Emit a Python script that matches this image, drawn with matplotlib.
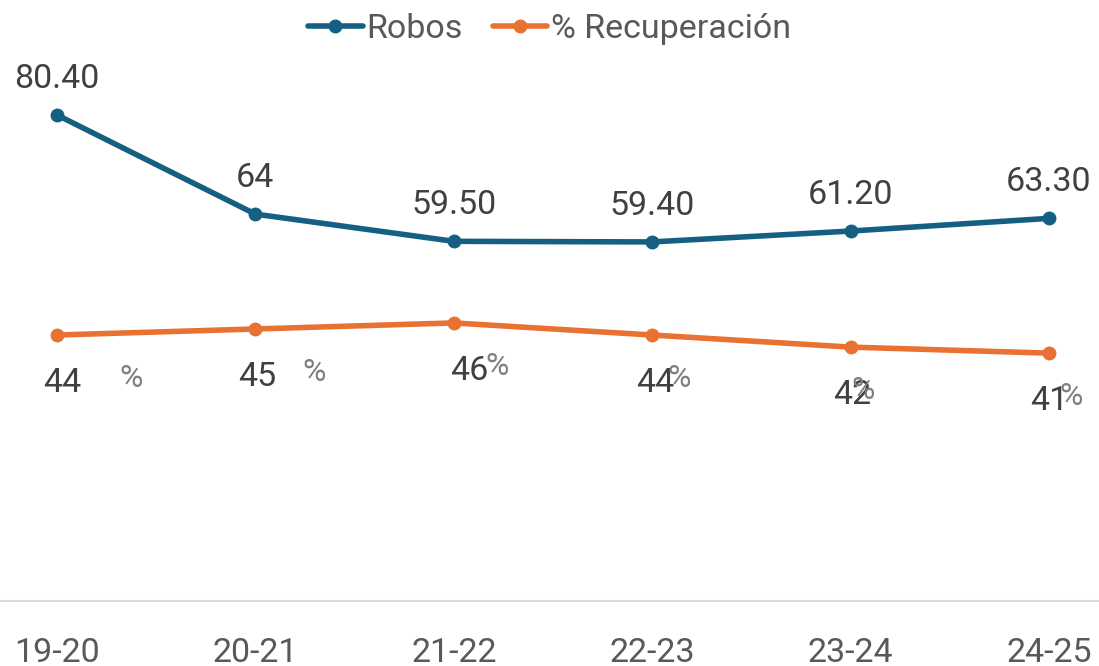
import matplotlib
matplotlib.use("Agg")
import matplotlib.pyplot as plt

plt.rcParams["font.family"] = ["Roboto", "DejaVu Sans"]

# Data
temporadas = ["19-20", "20-21", "21-22", "22-23", "23-24", "24-25"]
robos = [80.40, 64, 59.50, 59.40, 61.20, 63.30]
recuperacion = [44, 45, 46, 44, 42, 41]
robos_labels = ["80.40", "64", "59.50", "59.40", "61.20", "63.30"]

# Colours (Office theme)
BLUE = "#156082"
ORANGE = "#E97132"

# label nudges in pixels (number, "%" sign) for the orange series
num_dx = [5, 2, 16, 3, 2, 0]
pct_dx = [74, 59, 43, 27, 12, 22]

W, H = 1099, 666
fig = plt.figure(figsize=(W / 100, H / 100), dpi=100)
ax = fig.add_axes([0, 65 / H, 1, 601 / H])

x = list(range(len(temporadas)))
ax.plot(x, robos, color=BLUE, lw=4, marker="o", ms=9, label="Robos",
        solid_capstyle="round")
ax.plot(x, recuperacion, color=ORANGE, lw=4, marker="o", ms=9,
        label="% Recuperación", solid_capstyle="round")

step = 198.4
ax.set_xlim(-57 / step, (W - 57) / step)
ax.set_ylim(0, 601 / 6.045)

px = 72 / 100  # pixels -> points
for i, v in enumerate(robos):
    ax.annotate(robos_labels[i], (i, v), xytext=(0, 27 * px),
                textcoords="offset points", ha="center", va="baseline",
                fontsize=24.5, color="#404040")

for i, v in enumerate(recuperacion):
    ax.annotate(str(v), (i, v), xytext=(num_dx[i] * px, -57 * px),
                textcoords="offset points", ha="center", va="baseline",
                fontsize=24.5, color="#404040")
    ax.annotate("%", (i, v), xytext=(pct_dx[i] * px, -52 * px),
                textcoords="offset points", ha="center", va="baseline",
                fontsize=23, color="#7f7f7f")

for s in ["top", "right", "left"]:
    ax.spines[s].set_visible(False)
ax.spines["bottom"].set_color("#d9d9d9")
ax.spines["bottom"].set_linewidth(1.5)
ax.set_yticks([])
ax.set_xticks(x)
ax.set_xticklabels(temporadas, fontsize=24.5, color="#595959")
ax.tick_params(axis="x", length=0, pad=26)

leg = fig.legend(loc="center", bbox_to_anchor=(0.5, 1 - 29 / H), ncol=2,
                 frameon=False, fontsize=24.5, handlelength=1.6,
                 handletextpad=0.1, columnspacing=0.9)
for t in leg.get_texts():
    t.set_color("#595959")

fig.savefig("out.png", dpi=100)
